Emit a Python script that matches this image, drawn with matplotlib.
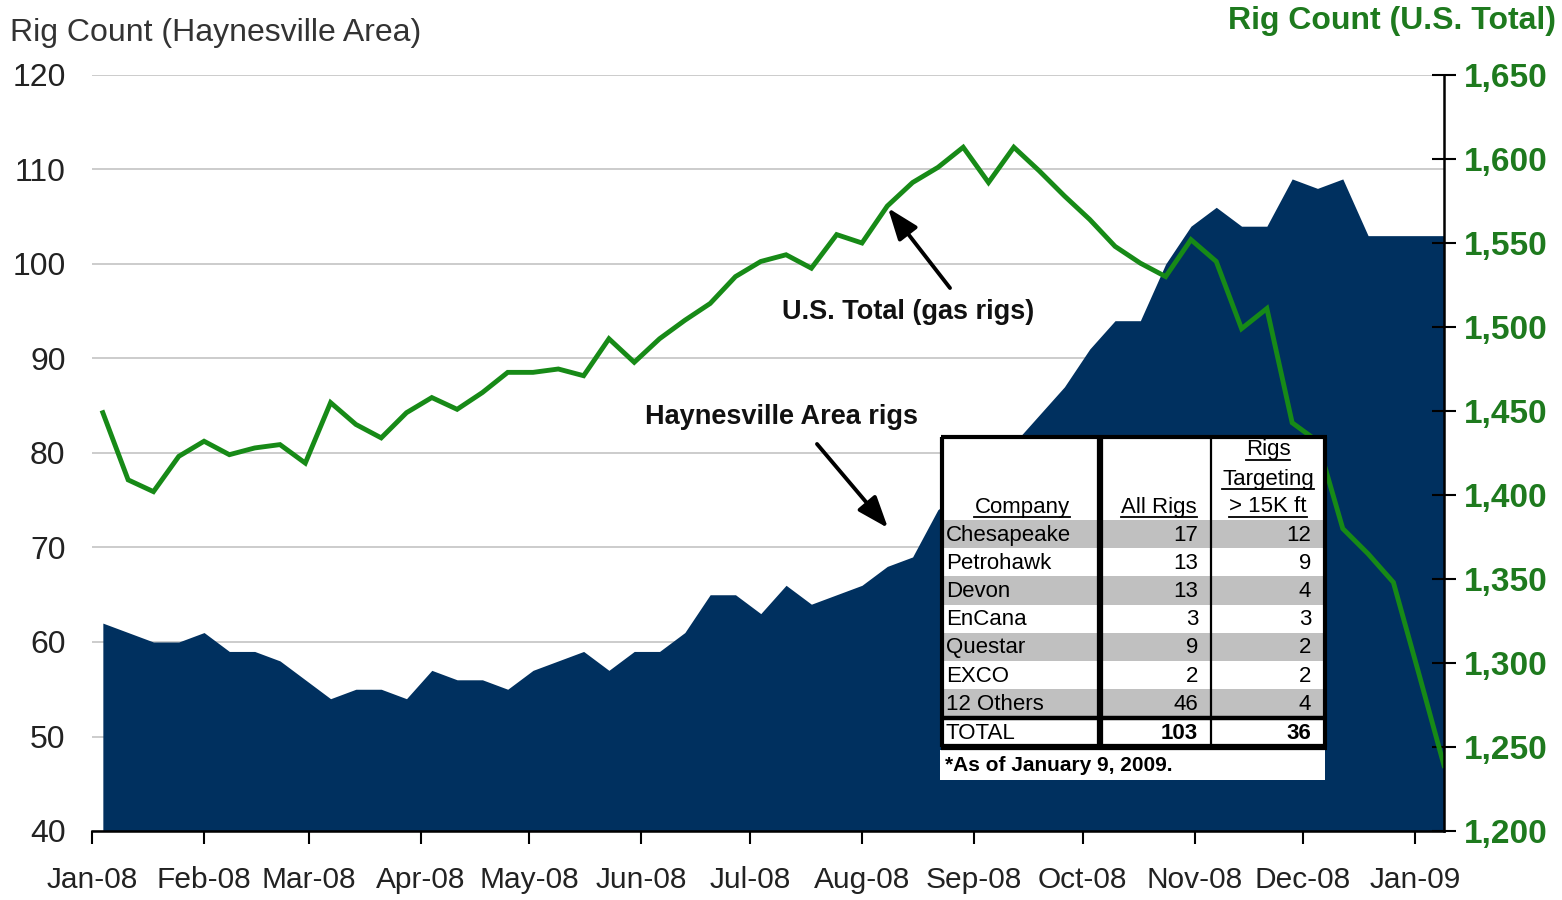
import matplotlib
matplotlib.use('Agg')
import matplotlib.pyplot as plt
import matplotlib.dates as mdates
from matplotlib.ticker import FuncFormatter
from matplotlib.patches import Rectangle
from matplotlib.lines import Line2D
from matplotlib.transforms import Affine2D, IdentityTransform
import pandas as pd

W, H = 1562, 900

# weekly rig counts (Fridays)
weeks = pd.date_range('2008-01-04', periods=54, freq='7D')
haynesville = [62, 61, 60, 60, 61, 59, 59, 58, 56, 54, 55, 55, 54, 57, 56, 56, 55, 57,
               58, 59, 57, 59, 59, 61, 65, 65, 63, 66, 64, 65, 66, 68, 69, 74, 76, 78,
               81, 84, 87, 91, 94, 94, 100, 104, 106, 104, 104, 109, 108, 109, 103, 103,
               103, 103]
us_gas = [1449, 1409, 1402, 1423, 1432, 1424, 1428, 1430, 1419, 1455, 1442, 1434, 1449,
          1458, 1451, 1461, 1473, 1473, 1475, 1471, 1493, 1479, 1493, 1504, 1514, 1530,
          1539, 1543, 1535, 1555, 1550, 1572, 1586, 1595, 1607, 1586, 1607, 1593, 1578,
          1564, 1548, 1538, 1530, 1552, 1539, 1499, 1511, 1443, 1432, 1380, 1365, 1348,
          1294, 1239]

# inset table
companies = ['Chesapeake', 'Petrohawk', 'Devon', 'EnCana', 'Questar', 'EXCO', '12 Others']
all_rigs = [17, 13, 13, 3, 9, 2, 46]
deep_rigs = [12, 9, 4, 3, 2, 2, 4]
total_all = 103
total_deep = 36
note = '*As of January 9, 2009.'

NAVY = '#00305f'
GREEN = '#178a17'
DKGREEN = '#1e7a1e'

plt.rcParams['font.family'] = ['Liberation Sans', 'DejaVu Sans']

fig = plt.figure(figsize=(W / 100, H / 100), dpi=100)
ax = fig.add_axes([92 / W, 69 / H, 1352 / W, 756 / H])

ax.fill_between(weeks, haynesville, 40, color=NAVY, lw=0)
ax.set_ylim(40, 120)
ax.set_xlim(pd.Timestamp('2008-01-01'), weeks[-1])
ax.set_yticks(range(40, 121, 10))
ax.grid(axis='y', color='#c4c4c4', lw=1.2)
ax.set_axisbelow(True)
for s in ['left', 'top', 'right']:
    ax.spines[s].set_visible(False)
ax.spines['bottom'].set_linewidth(1.8)
ax.tick_params(axis='y', length=0, pad=19, labelsize=23, labelcolor='#222222')
ax.xaxis.set_major_locator(mdates.MonthLocator())
ax.xaxis.set_major_formatter(mdates.DateFormatter('%b-%y'))
ax.tick_params(axis='x', direction='out', length=9, width=1.5, pad=16, labelsize=21.5,
               labelcolor='#222222')

ax2 = ax.twinx()
ax2.plot(weeks, us_gas, color=GREEN, lw=3.5, solid_joinstyle='miter')
ax2.set_ylim(1200, 1650)
ax2.set_yticks(range(1200, 1651, 50))
ax2.yaxis.set_major_formatter(FuncFormatter(lambda v, p: f'{v:,.0f}'))
ax2.tick_params(axis='y', direction='inout', length=17, width=1.5, pad=6, labelsize=24,
                labelcolor=DKGREEN)
for t in ax2.yaxis.get_major_ticks():
    t.label2.set_fontweight('bold')
for s in ['left', 'top']:
    ax2.spines[s].set_visible(False)
ax2.spines['right'].set_linewidth(1.8)

fig.text(10 / W, 1 - 33 / H, 'Rig Count (Haynesville Area)', ha='left', va='center',
         fontsize=23, color='#333333')
fig.text(1556 / W, 1 - 21 / H, 'Rig Count (U.S. Total)', ha='right', va='center',
         fontsize=23, fontweight='bold', color=DKGREEN)

# pixel coords, y down
px = Affine2D().scale(1 / W, -1 / H).translate(0, 1) + fig.transFigure

arrow = dict(arrowstyle='-|>,head_length=1.2,head_width=0.45', color='black', lw=2.8,
             mutation_scale=16, shrinkA=0, shrinkB=0)
fig.text(908 / W, 1 - 312 / H, 'U.S. Total (gas rigs)', ha='center', va='center',
         fontsize=19.5, fontweight='bold', color='#111111')
ax.annotate('', xy=(888, 208), xytext=(950, 288), xycoords=px, textcoords=px,
            arrowprops=arrow)
fig.text(782 / W, 1 - 417 / H, 'Haynesville Area rigs', ha='center', va='center',
         fontsize=19.5, fontweight='bold', color='#111111')
ax.annotate('', xy=(888, 528), xytext=(817, 444), xycoords=px, textcoords=px,
            arrowprops=arrow)


# table
def box(x, y, w, h, **kw):
    fig.add_artist(Rectangle((x, y), w, h, transform=px, zorder=5, **kw))


def line(xs, ys, lw):
    fig.add_artist(Line2D(xs, ys, transform=px, color='black', lw=lw,
                          solid_capstyle='butt', zorder=7))


tl, tr, tt = 942, 1325, 437
row_h = 28.2
row0 = 520
tot_y = row0 + row_h * len(companies)
box(tl, tt, tr - tl, tot_y + 30 - tt, facecolor='white', edgecolor='none')
for i in range(0, len(companies), 2):
    box(tl + 2, row0 + row_h * i, tr - tl - 4, row_h, facecolor='#c0c0c0',
        edgecolor='none')
box(940, tot_y + 33, tr - 940, 30, facecolor='white', edgecolor='none')

line([tl - 1.5, tr + 1.5], [tt, tt], 3)
line([tl, tr], [tot_y + 1, tot_y + 1], 3.2)
line([tl - 1.5, tr + 1.5], [tot_y + 30, tot_y + 30], 4.5)
line([tl, tl], [tt, tot_y + 30], 3)
line([tr, tr], [tt, tot_y + 30], 3)
line([1100, 1100], [tt, tot_y + 30], 4.5)
line([1211, 1211], [tt, tot_y + 30], 1.6)

tfs = 16
heads = []
heads.append(fig.text(1022 / W, 1 - 507 / H, 'Company', ha='center', va='center',
                      fontsize=tfs, zorder=8))
heads.append(fig.text(1197 / W, 1 - 507 / H, 'All Rigs', ha='right', va='center',
                      fontsize=tfs, zorder=8))
for lbl, yy in [('Rigs', 450), ('Targeting', 479), ('> 15K ft', 507)]:
    heads.append(fig.text(1268 / W, 1 - yy / H, lbl, ha='center', va='center',
                          fontsize=tfs, zorder=8))

for i, (name, a, d) in enumerate(zip(companies, all_rigs, deep_rigs)):
    yc = 1 - (row0 + row_h * i + row_h / 2 + 1) / H
    fig.text(946 / W, yc, name, ha='left', va='center', fontsize=tfs, zorder=8)
    fig.text(1198 / W, yc, str(a), ha='right', va='center', fontsize=tfs, zorder=8)
    fig.text(1311 / W, yc, str(d), ha='right', va='center', fontsize=tfs, zorder=8)

yc = 1 - (tot_y + 16) / H
fig.text(946 / W, yc, 'TOTAL', ha='left', va='center', fontsize=tfs, zorder=8)
fig.text(1198 / W, yc, str(total_all), ha='right', va='center', fontsize=tfs,
         fontweight='bold', zorder=8)
fig.text(1311 / W, yc, str(total_deep), ha='right', va='center', fontsize=tfs,
         fontweight='bold', zorder=8)
fig.text(945 / W, 1 - (tot_y + 48) / H, note, ha='left', va='center', fontsize=15,
         fontweight='bold', zorder=8)

# underline headers
fig.canvas.draw()
for t in heads:
    bb = t.get_window_extent()
    fig.add_artist(Line2D([bb.x0, bb.x1], [bb.y0 + 1, bb.y0 + 1],
                          transform=IdentityTransform(), color='black', lw=1.3,
                          zorder=8))

fig.savefig('out.png', dpi=100)
